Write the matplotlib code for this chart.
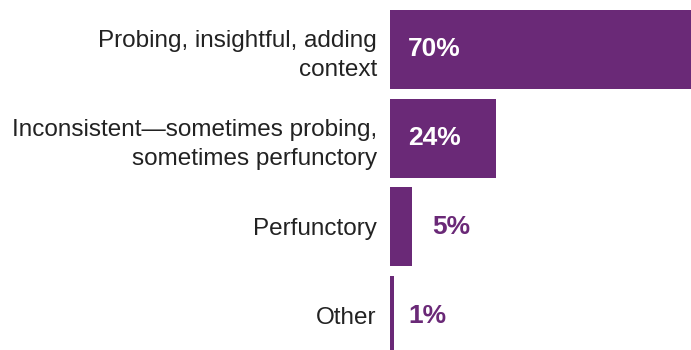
import numpy as np
import matplotlib.pyplot as plt

plt.rcParams['font.family'] = ['Liberation Sans', 'DejaVu Sans']

categories = [
    "Probing, insightful, adding\ncontext",
    "Inconsistent\u2014sometimes probing,\nsometimes perfunctory",
    "Perfunctory",
    "Other",
]
shares = [70, 24, 5, 1]

purple = "#6A2977"

fig = plt.figure(figsize=(6.91, 3.5), dpi=100)
ax = fig.add_axes([390 / 691, 0, 301 / 691, 1])

pos = np.arange(len(shares))
ax.barh(pos, shares, height=0.89, color=purple, clip_on=True)

ax.set_xlim(0, 68.4)
ax.set_ylim(3.388, -0.558)

ax.set_yticks(pos)
ax.set_yticklabels(categories, fontsize=17.5, color="#222222", linespacing=1.42)
ax.tick_params(axis="y", length=0, pad=9.5)
ax.set_xticks([])
for s in ax.spines.values():
    s.set_visible(False)

# values: white inside the wide bars, purple beside the narrow ones
for y, v in zip(pos, shares):
    if v >= 10:
        x, c = 4.1, "white"
    elif v >= 3:
        x, c = v + 4.5, purple
    else:
        x, c = 4.1, purple
    ax.text(x, y, f"{v}%", ha="left", va="center", fontsize=19,
            fontweight="bold", color=c)

fig.savefig("out.png", dpi=100)
